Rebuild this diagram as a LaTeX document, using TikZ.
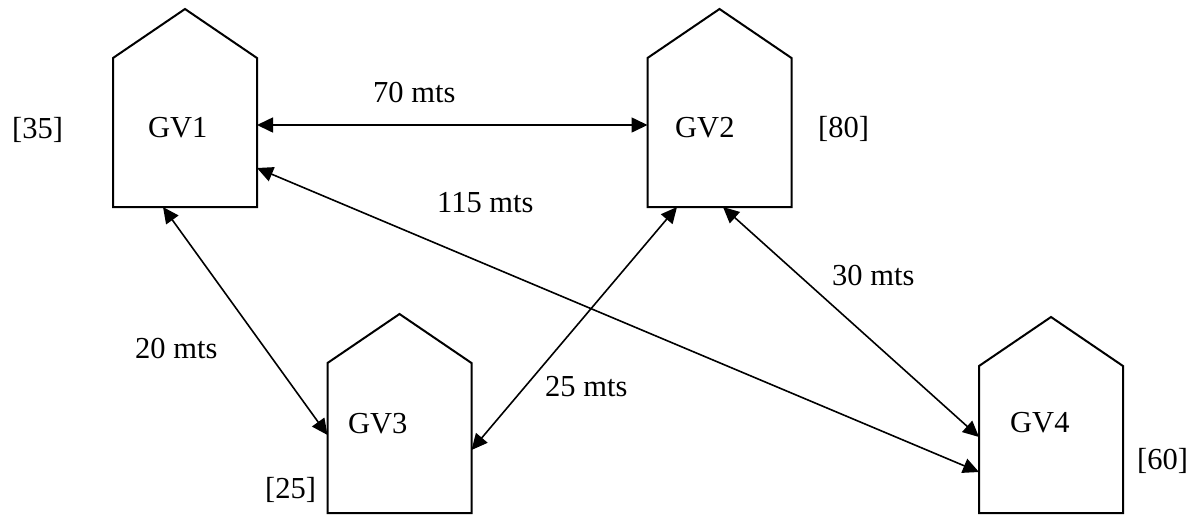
\documentclass[tikz,border=0pt]{standalone}
\usepackage{fontspec}
\setmainfont{Liberation Serif}
\usetikzlibrary{arrows.meta}
\begin{document}
\begin{tikzpicture}[x=1pt,y=-1pt,
    house/.style={minimum width=144pt,inner sep=0pt,outer sep=0pt},
    link/.style={{Triangle[length=16pt,width=15pt]}-{Triangle[length=16pt,width=15pt]},line width=1.6pt},
    txt/.style={anchor=base west,inner sep=0pt,font=\fontsize{30.5}{36}\selectfont}]
    \useasboundingbox (0,0) rectangle (1204,515);
    % walls of the houses
    \node(gv1) [house,minimum height=149pt] at (185,132.5) {};
    \node(gv2) [house,minimum height=149pt] at (719.5,132.5) {};
    \node(gv3) [house,minimum height=150pt] at (399.5,438) {};
    \node(gv4) [house,minimum height=147pt] at (1051,439.5) {};
    \foreach \g in {gv1,gv2,gv3,gv4}
        \draw[line width=2pt] (\g.south west) -- (\g.north west) -- ([yshift=49pt]\g.north) -- (\g.north east) -- (\g.south east) -- cycle;
    % names and loads
    \node(name1) [txt] at (148,137) {GV1};
    \node(name2) [txt] at (675,137) {GV2};
    \node(name3) [txt] at (348,433) {GV3};
    \node(name4) [txt] at (1010,432) {GV4};
    \node(load1) [txt] at (12,138) {[35]};
    \node(load2) [txt] at (818,137) {[80]};
    \node(load3) [txt] at (265,498) {[25]};
    \node(load4) [txt] at (1137,469) {[60]};
    % distances
    \draw[link] ([yshift=7.5pt]gv1.east) -- ([yshift=7.5pt]gv2.west);
    \draw[link] ([yshift=-35.5pt]gv1.east) -- ([yshift=-32.5pt]gv4.west);
    \draw[link] ([xshift=-22pt]gv1.south) -- ([yshift=3pt]gv3.west);
    \draw[link] ([xshift=-42.5pt]gv2.south) -- ([yshift=-12pt]gv3.east);
    \draw[link] ([xshift=3.5pt]gv2.south) -- ([yshift=2.5pt]gv4.west);
    \node(d12) [txt] at (373,102) {70 mts};
    \node(d14) [txt] at (437,212) {115 mts};
    \node(d13) [txt] at (135,358) {20 mts};
    \node(d23) [txt] at (545,396) {25 mts};
    \node(d24) [txt] at (832,285) {30 mts};
\end{tikzpicture}
\end{document}
